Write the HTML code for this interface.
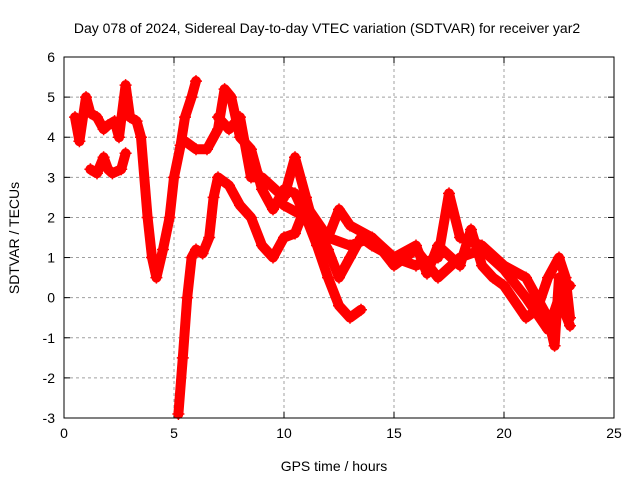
<!DOCTYPE html>
<html><head><meta charset="utf-8"><style>
body{margin:0;background:#fff;}
svg{display:block;font-family:"Liberation Sans",sans-serif;}
</style></head><body>
<svg id="c" width="640" height="480">
<text x="327" y="33" font-size="14" text-anchor="middle">Day 078 of 2024, Sidereal Day-to-day VTEC variation (SDTVAR) for receiver yar2</text>
<text x="334" y="471" font-size="14" text-anchor="middle">GPS time / hours</text>
<text transform="translate(19,238) rotate(-90)" font-size="14" text-anchor="middle">SDTVAR / TECUs</text>
<g id="grid"></g><g id="marks"></g>
<rect x="64" y="57" width="550" height="361" fill="none" stroke="#000" stroke-width="1"/>
</svg>
<script>
const xTicks=[0,5,10,15,20,25];
const yTicks=[-3,-2,-1,0,1,2,3,4,5,6];
const seriesA_x=[0.5,0.7,1.0,1.2,1.5,1.8,2.0,2.3,2.5,2.8,3.0,3.3,3.5,3.8,4.0,4.2,4.5,4.8,5.0,5.3,5.5,5.8,6.0];
const seriesA_y=[4.5,3.9,5.0,4.6,4.5,4.2,4.3,4.4,4.0,5.3,4.5,4.4,4.0,2.0,1.0,0.5,1.2,2.0,3.0,3.8,4.5,5.0,5.4];
const seriesB_x=[5.5,6.0,6.5,7.0,7.3,7.6,8.0,8.5,9.0,9.5,10.0,10.5,11.0,11.5,12.0,12.5,13.0,13.5];
const seriesB_y=[3.9,3.7,3.7,4.2,5.2,5.0,4.0,3.7,2.7,2.2,2.7,2.6,2.0,1.3,0.5,-0.2,-0.5,-0.3];
const seriesC_x=[5.2,5.4,5.6,5.8,6.0,6.3,6.6,6.8,7.0,7.5,8.0,8.5,9.0,9.5,10.0,10.5,11.0,12.0,13.0,14.0,15.0,16.0,17.0,18.0,19.0,20.0,21.0,22.0,22.5,23.0];
const seriesC_y=[-2.9,-1.5,0.0,1.0,1.2,1.1,1.5,2.5,3.0,2.8,2.3,2.0,1.3,1.0,1.5,1.6,2.3,1.5,1.3,1.5,0.8,1.2,0.5,1.0,1.2,0.7,0.0,-0.8,0.0,-0.7];
const seriesD_x=[7.0,7.5,8.0,8.5,9.0,10.0,10.5,11.0,11.5,12.0,12.5,13.0,14.0,15.0,16.0,17.0,17.5,18.0,19.0,20.0,21.0,22.0,22.3,22.5,23.0];
const seriesD_y=[4.5,4.2,4.5,3.0,3.0,2.5,3.5,2.5,1.5,1.5,2.2,1.8,1.5,1.0,0.8,1.0,2.6,1.5,1.3,0.8,0.5,-0.5,-1.2,0.5,0.3];
const seriesE_x=[10.0,11.0,11.5,12.0,12.5,13.0,13.5,14.0,15.0,16.0,16.5,17.0,18.0,18.5,19.0,19.5,20.0,21.0,21.5,22.0,22.5,22.8,23.0];
const seriesE_y=[2.3,2.0,1.7,1.2,0.5,1.0,1.5,1.3,1.0,1.3,0.6,1.3,0.8,1.7,0.8,0.5,0.3,-0.5,-0.3,0.5,1.0,0.5,-0.5];
const seriesF_x=[1.2,1.5,1.8,2.0,2.2,2.6,2.8];
const seriesF_y=[3.2,3.1,3.5,3.2,3.1,3.2,3.6];
const NS="http://www.w3.org/2000/svg";
const X0=64,X1=614,Y0=418,Y1=57;
function sx(v){return X0+(v-0)/(25-0)*(X1-X0);}
function sy(v){return Y0-(v+3)/(6+3)*(Y0-Y1);}
const svg=document.getElementById('c'),grid=document.getElementById('grid'),marks=document.getElementById('marks');
function mk(t,a,p){const e=document.createElementNS(NS,t);for(const k in a)e.setAttribute(k,a[k]);p.appendChild(e);return e;}
xTicks.forEach(v=>{const x=sx(v);
 if(v>0&&v<25){const l=mk('line',{x1:x,x2:x,y1:Y1,y2:Y0,stroke:'#a0a0a0','stroke-dasharray':'3,3'},grid);
 
 }
 mk('line',{x1:x,x2:x,y1:Y0,y2:Y0-6,stroke:'#000'},grid);mk('line',{x1:x,x2:x,y1:Y1,y2:Y1+6,stroke:'#000'},grid);
 const t=mk('text',{x:x,y:Y0+20,'font-size':14,'text-anchor':'middle'},svg);t.textContent=v;
 
 });
yTicks.forEach(v=>{const y=sy(v);
 if(v>-3&&v<6){const l=mk('line',{x1:X0,x2:X1,y1:y,y2:y,stroke:'#a0a0a0','stroke-dasharray':'3,3'},grid);
 
 }
 mk('line',{x1:X0,x2:X0+6,y1:y,y2:y,stroke:'#000'},grid);mk('line',{x1:X1,x2:X1-6,y1:y,y2:y,stroke:'#000'},grid);
 const t=mk('text',{x:X0-9,y:y+5,'font-size':14,'text-anchor':'end'},svg);t.textContent=v;
 
 });
[[seriesA_x,seriesA_y],[seriesB_x,seriesB_y],[seriesC_x,seriesC_y],[seriesD_x,seriesD_y],[seriesE_x,seriesE_y],[seriesF_x,seriesF_y]].forEach((s,i)=>{
 const pts=s[0].map((x,j)=>sx(x)+','+sy(s[1][j])).join(' ');
 const pl=mk('polyline',{points:pts,fill:'none',stroke:'#ff0000','stroke-width':10,'stroke-linejoin':'round','stroke-linecap':'round'},marks);
 
 
 s[0].forEach((x,j)=>{const px=sx(x),py=sy(s[1][j]);
  const p=mk('path',{d:`M${px-6},${py}h12M${px},${py-6}v12`,stroke:'#ff0000','stroke-width':1.5},marks);
  
  });
});
</script>
</body></html>
